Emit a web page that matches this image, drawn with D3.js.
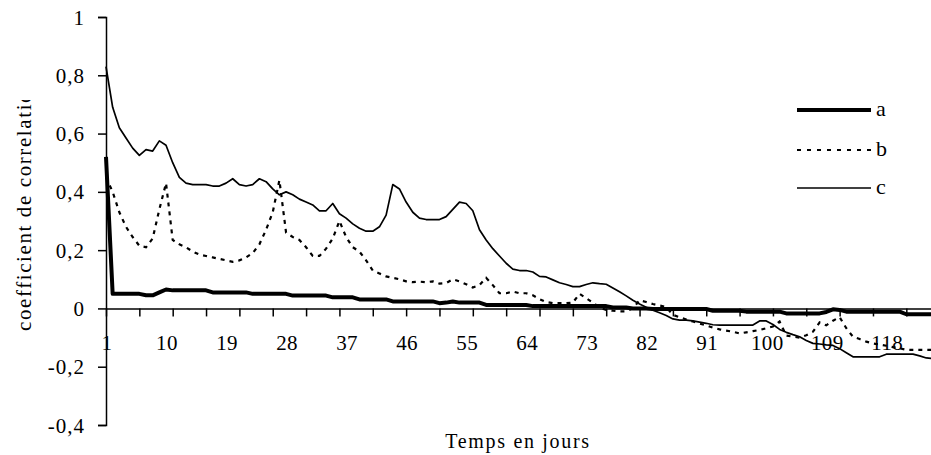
<!DOCTYPE html>
<html>
<head>
<meta charset="utf-8">
<script src="https://cdn.jsdelivr.net/npm/d3@7"></script>
<style>
  html, body { margin: 0; padding: 0; background: #fff; }
  svg { display: block; }
  text { font-family: "Liberation Serif", "Times New Roman", serif; fill: #000; }
</style>
</head>
<body>
<svg id="chart" width="931" height="455"></svg>
<script>
// ---- data ----
const days = d3.range(1, 126); // categories 1..125

const seriesA = [
  0.52, 0.05, 0.05, 0.05, 0.05, 0.05, 0.045, 0.045, 0.055, 0.065,
  0.062, 0.062, 0.062, 0.062, 0.062, 0.062, 0.055, 0.055, 0.055, 0.055,
  0.055, 0.055, 0.05, 0.05, 0.05, 0.05, 0.05, 0.05, 0.044, 0.044,
  0.044, 0.044, 0.044, 0.044, 0.038, 0.038, 0.038, 0.038, 0.031, 0.031,
  0.031, 0.031, 0.031, 0.024, 0.024, 0.024, 0.024, 0.024, 0.024, 0.024,
  0.018, 0.02, 0.024, 0.02, 0.02, 0.02, 0.02, 0.012, 0.012, 0.012,
  0.012, 0.012, 0.012, 0.012, 0.008, 0.008, 0.008, 0.008, 0.008, 0.008,
  0.008, 0.008, 0.008, 0.008, 0.008, 0.008, 0.003, 0.003, 0.003, 0.0,
  0.0, 0.0, -0.002, -0.002, -0.002, -0.002, -0.002, -0.002, -0.002, -0.002,
  -0.002, -0.008, -0.008, -0.008, -0.008, -0.008, -0.011, -0.011, -0.011, -0.011,
  -0.011, -0.011, -0.017, -0.017, -0.017, -0.017, -0.017, -0.017, -0.012, -0.003,
  -0.005, -0.011, -0.011, -0.011, -0.011, -0.011, -0.011, -0.011, -0.011, -0.011,
  -0.02, -0.02, -0.02, -0.02, -0.02
];

const seriesB = [
  0.45, 0.40, 0.33, 0.28, 0.245, 0.215, 0.21, 0.24, 0.34, 0.43,
  0.235, 0.22, 0.21, 0.195, 0.185, 0.18, 0.175, 0.17, 0.165, 0.16,
  0.165, 0.175, 0.19, 0.22, 0.27, 0.33, 0.44, 0.26, 0.245, 0.235,
  0.21, 0.18, 0.18, 0.205, 0.24, 0.30, 0.245, 0.21, 0.195, 0.165,
  0.13, 0.12, 0.11, 0.105, 0.10, 0.093, 0.09, 0.092, 0.09, 0.093,
  0.085, 0.087, 0.10, 0.093, 0.083, 0.072, 0.08, 0.105, 0.08, 0.052,
  0.052, 0.058, 0.052, 0.052, 0.045, 0.032, 0.022, 0.018, 0.018, 0.018,
  0.02, 0.05, 0.035, 0.02, 0.003, -0.005, -0.008, -0.01, -0.01, 0.0,
  0.028, 0.022, 0.015, 0.01, 0.005, -0.022, -0.03, -0.038, -0.045, -0.052,
  -0.058, -0.066, -0.072, -0.076, -0.08, -0.086, -0.082, -0.078, -0.074, -0.068,
  -0.062, -0.045, -0.093, -0.097, -0.10, -0.092, -0.08, -0.048, -0.058, -0.042,
  -0.03, -0.068, -0.097, -0.105, -0.114, -0.12, -0.124, -0.128, -0.133, -0.137,
  -0.142, -0.142, -0.142, -0.142, -0.142
];

const seriesC = [
  0.83, 0.69, 0.62, 0.585, 0.55, 0.525, 0.545, 0.54, 0.575, 0.56,
  0.50, 0.45, 0.43, 0.425, 0.425, 0.425, 0.42, 0.42, 0.43, 0.445,
  0.425, 0.42, 0.425, 0.445, 0.435, 0.41, 0.39, 0.40, 0.39, 0.375,
  0.365, 0.355, 0.335, 0.335, 0.36, 0.325, 0.31, 0.29, 0.275, 0.265,
  0.265, 0.28, 0.32, 0.425, 0.41, 0.365, 0.33, 0.31, 0.305, 0.305,
  0.305, 0.315, 0.34, 0.365, 0.36, 0.335, 0.27, 0.235, 0.205, 0.18,
  0.155, 0.135, 0.13, 0.13, 0.125, 0.11, 0.108, 0.098, 0.088, 0.082,
  0.075, 0.075, 0.082, 0.088, 0.085, 0.083, 0.07, 0.057, 0.043, 0.028,
  0.015, 0.004, -0.006, -0.015, -0.024, -0.036, -0.04, -0.04, -0.043, -0.047,
  -0.051, -0.056, -0.057, -0.057, -0.057, -0.057, -0.057, -0.057, -0.043, -0.043,
  -0.055, -0.072, -0.082, -0.09, -0.097, -0.11, -0.12, -0.122, -0.125, -0.127,
  -0.138, -0.152, -0.166, -0.166, -0.166, -0.166, -0.166, -0.157, -0.157, -0.157,
  -0.157, -0.157, -0.163, -0.17, -0.172
];

const seriesNames = ["a", "b", "c"];
const yTicks = [-0.4, -0.2, 0, 0.2, 0.4, 0.6, 0.8, 1];
const xTickMarks = d3.range(1, 126, 5);
const xTickLabels = [1, 10, 19, 28, 37, 46, 55, 64, 73, 82, 91, 100, 109, 118];
const xTitle = "Temps en jours";
const yTitle = "coefficient de correlation";

// ---- layout ----
const svg = d3.select("#chart");
svg.append("rect").attr("width", 931).attr("height", 455).attr("fill", "#fff");

const x = d3.scaleLinear().domain([1, 125]).range([106, 933]);
const y = d3.scaleLinear().domain([-0.4, 1]).range([425, 17]);

const fmt = v => (Math.round(v * 10) / 10).toString().replace(".", ",");

// y axis
const yAxis = svg.append("g")
  .attr("transform", `translate(${x(1)},0)`)
  .call(d3.axisLeft(y).tickValues(yTicks).tickSize(8).tickPadding(13).tickFormat(fmt));
yAxis.select(".domain").attr("stroke", "#000").attr("stroke-width", 1.5);
yAxis.selectAll(".tick line").attr("stroke", "#000").attr("stroke-width", 1.5);
yAxis.selectAll(".tick text")
  .attr("font-family", "Liberation Serif, serif")
  .attr("font-size", 21)
  .attr("letter-spacing", 1)
  .attr("dy", "0.34em");

// x axis (tick marks every 5 categories)
const xAxis = svg.append("g")
  .attr("transform", `translate(0,${y(0)})`)
  .call(d3.axisBottom(x).tickValues(xTickMarks).tickSize(8).tickSizeOuter(0).tickFormat(""));
xAxis.select(".domain").attr("stroke", "#000").attr("stroke-width", 1.5);
xAxis.selectAll(".tick line").attr("stroke", "#000").attr("stroke-width", 1.5);

// x labels every 9 categories
svg.append("g").selectAll("text")
  .data(xTickLabels)
  .join("text")
  .attr("x", d => x(d) + 1)
  .attr("y", 350)
  .attr("text-anchor", "middle")
  .attr("font-size", 21)
  .attr("letter-spacing", 0.4)
  .text(d => d);

// lines
const line = d3.line().x((d, i) => x(days[i])).y(d => y(d));
const plot = svg.append("g");

plot.append("path").datum(seriesC)
  .attr("d", line).attr("fill", "none").attr("stroke", "#000")
  .attr("stroke-width", 1.7).attr("stroke-linejoin", "round");

plot.append("path").datum(seriesB)
  .attr("d", line).attr("fill", "none").attr("stroke", "#000")
  .attr("stroke-width", 2.2).attr("stroke-dasharray", "4,5");

plot.append("path").datum(seriesA)
  .attr("d", line).attr("fill", "none").attr("stroke", "#000")
  .attr("stroke-width", 4).attr("stroke-linejoin", "round");

// legend
const legendY = [110, 150, 188];
const legendStyles = [
  { w: 4, dash: null },
  { w: 2.2, dash: "4,6" },
  { w: 1.7, dash: null }
];
const legend = svg.append("g");
seriesNames.forEach((name, i) => {
  legend.append("line")
    .attr("x1", 797).attr("x2", 871)
    .attr("y1", legendY[i]).attr("y2", legendY[i])
    .attr("stroke", "#000").attr("stroke-width", legendStyles[i].w)
    .attr("stroke-dasharray", legendStyles[i].dash);
  legend.append("text")
    .attr("x", 876).attr("y", legendY[i] + 6)
    .attr("font-size", 22)
    .text(name);
});

// titles
svg.append("text")
  .attr("x", 518).attr("y", 448)
  .attr("text-anchor", "middle")
  .attr("font-size", 20)
  .attr("letter-spacing", 1.7)
  .text(xTitle);

svg.append("clipPath").attr("id", "ytclip")
  .append("rect").attr("x", 0).attr("y", 100).attr("width", 60).attr("height", 355);

svg.append("g").attr("clip-path", "url(#ytclip)")
  .append("text")
  .attr("transform", "translate(31,331) rotate(-90)")
  .attr("font-size", 21)
  .attr("letter-spacing", 1.6)
  .text(yTitle);
</script>
</body>
</html>
